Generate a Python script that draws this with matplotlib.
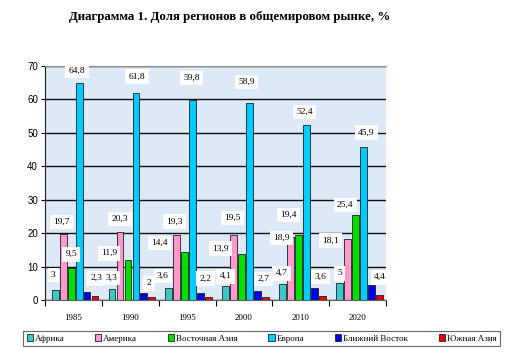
import matplotlib
matplotlib.use("Agg")
import matplotlib.pyplot as plt
import numpy as np

years = ["1985", "1990", "1995", "2000", "2010", "2020"]
regions = ["Африка", "Америка", "Восточная Азия", "Европа", "Ближний Восток", "Южная Азия"]
africa = [3, 3.3, 3.6, 4.1, 4.7, 5]
america = [19.7, 20.3, 19.3, 19.5, 18.9, 18.1]
east_asia = [9.5, 11.9, 14.4, 13.9, 19.4, 25.4]
europe = [64.8, 61.8, 59.8, 58.9, 52.4, 45.9]
middle_east = [2.3, 2, 2.2, 2.7, 3.6, 4.4]
south_asia = [1.1, 1.0, 0.9, 1.0, 1.2, 1.5]

series = [africa, america, east_asia, europe, middle_east, south_asia]
colors = ["#3cc8c8", "#ff99cc", "#00e000", "#00ccff", "#0000ee", "#ee0000"]

# смещения подписей (в пикселях) как в Excel; None - без подписи
label_dx = [[-2, -1, -6, 0, -1, 0],
            [-2, 0, -2, -1, -9, -17],
            [0, -19, -25, -21, -10, -10],
            [-2, 1, -1, -3, -2, 3],
            [9, 5, 5, 6, 6, 9],
            None]
label_dy = [[15, 11, 12, 10, 11, 10],
            [12, 13, 14, 17, -1, -1],
            [14, 7, 9, 5, 20, 10],
            [13, 17, 22, 21, 13, 14],
            [14, 10, 14, 12, 11, 8],
            None]

plt.rcParams['font.family'] = ['Liberation Serif', 'DejaVu Serif']

fig = plt.figure(figsize=(5.29, 3.61), dpi=100)
ax = fig.add_axes([45 / 529, 1 - 300 / 361, 341 / 529, 234 / 361])
ax.set_facecolor("#dde9f6")

x = np.arange(len(years))
width = 0.12
offsets = [-0.32, -0.18, -0.04, 0.10, 0.24, 0.38]

for i, (vals, col, off, name) in enumerate(zip(series, colors, offsets, regions)):
    bars = ax.bar(x + off, vals, width, color=col, edgecolor="#202020",
                  linewidth=0.6, label=name, zorder=3)
    if label_dx[i] is None:
        continue
    for j, (b, v) in enumerate(zip(bars, vals)):
        txt = f"{v:g}".replace(".", ",")
        ax.annotate(txt, (b.get_x() + b.get_width() / 2, v),
                    xytext=(label_dx[i][j], label_dy[i][j]), textcoords="offset pixels",
                    ha="center", va="center", fontsize=6.8,
                    bbox=dict(boxstyle="square,pad=0.35", fc="white", ec="none"),
                    zorder=5)

ax.set_xlim(-0.5, len(years) - 0.5)
ax.set_ylim(0, 70)
ax.set_yticks(range(0, 71, 10))
ax.yaxis.grid(True, color="#101010", linewidth=1.0, zorder=1)
ax.set_axisbelow(True)

ax.set_xticks(x)
ax.set_xticklabels(years, fontsize=6.5)
ax.set_xticks(np.arange(-0.5, len(years), 1.0), minor=True)
ax.tick_params(axis="x", which="major", length=0, pad=10)
ax.tick_params(axis="x", which="minor", length=4, width=0.8, direction="out")
ax.tick_params(axis="y", length=3, width=0.8, labelsize=7, pad=2)
for t in ax.get_yticklabels():
    t.set_family(['Liberation Sans', 'DejaVu Sans'])

ax.spines["top"].set_color("#909090")
ax.spines["right"].set_visible(False)
ax.spines["left"].set_color("#202020")
ax.spines["bottom"].set_color("#606060")

fig.text(0.435, 1 - 17 / 361, "Диаграмма 1. Доля регионов в общемировом рынке, %",
         ha="center", va="center", fontsize=9.3, fontweight="bold")

leg = fig.legend(loc="center", ncol=6, bbox_to_anchor=(23 / 529, 1 - 352 / 361, 477 / 529, 27 / 361),
                 mode="expand", fontsize=6.5, frameon=True, fancybox=False,
                 handlelength=0.7, handleheight=0.7, handletextpad=0.2,
                 columnspacing=1.0, borderaxespad=0)
leg.get_frame().set_edgecolor("#404040")
leg.get_frame().set_linewidth(0.8)

fig.savefig("out.png", dpi=100)
